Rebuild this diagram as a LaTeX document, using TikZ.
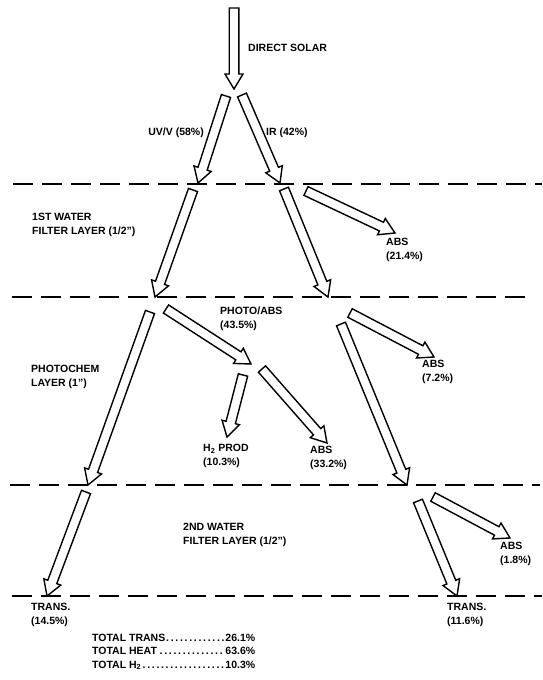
\documentclass[tikz,border=0pt]{standalone}
\usepackage{fontspec}
\setmainfont{Liberation Sans}
\usetikzlibrary{calc}

% hollow block arrow from #1 to #2 (named coordinates)
\newcommand{\flowarrow}[2]{%
  \coordinate (hb) at ($(#2)!15pt!(#1)$);
  \draw[blockarrow] ($(#1)!4.8pt!90:(#2)$) -- ($(hb)!4.8pt!90:(#2)$)
    -- ($(hb)!9pt!90:(#2)$) -- (#2) -- ($(hb)!9pt!-90:(#2)$)
    -- ($(hb)!4.8pt!-90:(#2)$) -- ($(#1)!4.8pt!-90:(#2)$) -- cycle;}

\begin{document}
\begin{tikzpicture}[x=1pt, y=-1pt,
      blockarrow/.style={draw=black, line width=1.4pt, fill=white, line join=miter},
      layerline/.style={line width=1.8pt, dash pattern=on 20pt off 9pt},
      lbl/.style={font=\bfseries\fontsize{10.5}{13.5}\selectfont, align=left,
                  inner sep=0pt, anchor=west}]
    \useasboundingbox (0,0) rectangle (542,680);

    % layer boundaries
    \draw[layerline] (13,184) -- (542,184);
    \draw[layerline] (12,297) -- (530,297);
    \draw[layerline] (10,485) -- (540,485);
    \draw[layerline] (12,596) -- (542,596);

    % arrow end points
    \coordinate (sun)   at (234,8);
    \coordinate (split) at (234,89);
    \coordinate (uvA) at (226,96);   \coordinate (uvB) at (198,183);
    \coordinate (irA) at (242,95);   \coordinate (irB) at (280,183);
    \coordinate (uvC) at (193,190);  \coordinate (uvD) at (155,297);
    \coordinate (irC) at (284,189);  \coordinate (irD) at (328,297);
    \coordinate (absA) at (306,191); \coordinate (absB) at (395,233);
    \coordinate (uvE) at (150,312);  \coordinate (uvF) at (88,485);
    \coordinate (phA) at (166,309);  \coordinate (phB) at (251,364);
    \coordinate (hA) at (243,375);   \coordinate (hB) at (227,437);
    \coordinate (aA) at (262,369);   \coordinate (aB) at (327,443);
    \coordinate (sA) at (350,313);   \coordinate (sB) at (434,357);
    \coordinate (irE) at (341,324);  \coordinate (irF) at (407,485);
    \coordinate (uvG) at (86,492);   \coordinate (uvH) at (47,596);
    \coordinate (irG) at (418,501);  \coordinate (irH) at (457,596);
    \coordinate (tA) at (433,497);   \coordinate (tB) at (510,538);

    % energy flow
    \flowarrow{sun}{split}
    \flowarrow{uvA}{uvB}
    \flowarrow{irA}{irB}
    \flowarrow{uvC}{uvD}
    \flowarrow{irC}{irD}
    \flowarrow{absA}{absB}
    \flowarrow{uvE}{uvF}
    \flowarrow{phA}{phB}
    \flowarrow{hA}{hB}
    \flowarrow{aA}{aB}
    \flowarrow{sA}{sB}
    \flowarrow{irE}{irF}
    \flowarrow{uvG}{uvH}
    \flowarrow{irG}{irH}
    \flowarrow{tA}{tB}

    % labels
    \node[lbl] (direct) at (248,48) {DIRECT SOLAR};
    \node[lbl,anchor=east] (uv) at (204,133) {UV/V (58\%)};
    \node[lbl] (ir) at (266,133) {IR (42\%)};
    \node[lbl] (layer1) at (32,225) {1ST WATER\\FILTER LAYER (1/2")};
    \node[lbl] (abs1) at (386,250) {ABS\\(21.4\%)};
    \node[lbl] (photo) at (220,319) {PHOTO/ABS\\(43.5\%)};
    \node[lbl] (layer2) at (31,377) {PHOTOCHEM\\LAYER (1")};
    \node[lbl] (abs2) at (422,372) {ABS\\(7.2\%)};
    \node[lbl] (h2prod) at (203,456) {H\textsubscript{2} PROD\\(10.3\%)};
    \node[lbl] (abs3) at (310,458) {ABS\\(33.2\%)};
    \node[lbl] (layer3) at (183,535) {2ND WATER\\FILTER LAYER (1/2")};
    \node[lbl] (abs4) at (500,554) {ABS\\(1.8\%)};
    \node[lbl] (trans1) at (31,615) {TRANS.\\(14.5\%)};
    \node[lbl] (trans2) at (447,615) {TRANS.\\(11.6\%)};

    % totals
    \node[lbl] (totals) at (92,652) {%
      \makebox[163pt][l]{TOTAL TRANS\dotfill 26.1\%}\\
      \makebox[163pt][l]{TOTAL HEAT\dotfill 63.6\%}\\
      \makebox[163pt][l]{TOTAL H\textsubscript{2}\dotfill 10.3\%}};
\end{tikzpicture}
\end{document}
